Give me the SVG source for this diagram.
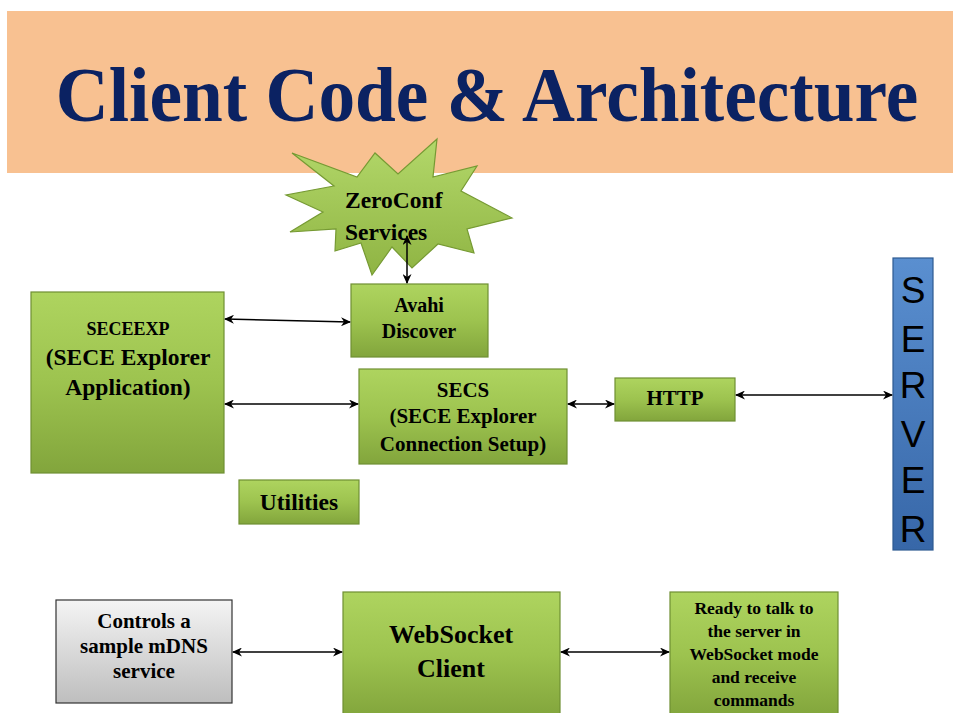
<svg xmlns="http://www.w3.org/2000/svg" width="953" height="713" viewBox="0 0 953 713">
<defs>
<linearGradient id="gGreen" x1="0" y1="0" x2="0" y2="1">
<stop offset="0" stop-color="#AED45F"/>
<stop offset="0.5" stop-color="#9DC34F"/>
<stop offset="1" stop-color="#82A53C"/>
</linearGradient>
<linearGradient id="gStar" x1="0" y1="0" x2="0" y2="1">
<stop offset="0" stop-color="#B3D86A"/>
<stop offset="1" stop-color="#8FB443"/>
</linearGradient>
<linearGradient id="gBlue" x1="0" y1="0" x2="0" y2="1">
<stop offset="0" stop-color="#5A8FD0"/>
<stop offset="1" stop-color="#3767A8"/>
</linearGradient>
<linearGradient id="gGray" x1="0" y1="0" x2="0" y2="1">
<stop offset="0" stop-color="#F4F4F4"/>
<stop offset="1" stop-color="#BEBEBE"/>
</linearGradient>
<marker id="ah" viewBox="0 0 10 10" refX="9" refY="5" markerWidth="10" markerHeight="9" markerUnits="userSpaceOnUse" orient="auto-start-reverse" preserveAspectRatio="none">
<path d="M0,0 L10,5 L0,10 L3,5 z" fill="#000"/>
</marker>
<style>
.gbox{fill:url(#gGreen);stroke:#6F8F33;stroke-width:1.2}
.t{font-family:"Liberation Serif","Times New Roman",serif;font-weight:bold;fill:#000;text-anchor:middle}
.srv{font-family:"Liberation Sans",Arial,sans-serif;font-size:37px;fill:#000;text-anchor:middle}
.conn line{stroke:#000;stroke-width:1.5;marker-start:url(#ah);marker-end:url(#ah)}
</style>
</defs>
<rect x="0" y="0" width="953" height="713" fill="#FFFFFF"/>

<g id="header">
<rect x="7" y="11" width="946" height="162" fill="#F8C191"/>
<text transform="translate(487,121) scale(0.928,1)" x="0" y="0" font-family="'Liberation Serif','Times New Roman',serif" font-weight="bold" font-size="79" fill="#0B2262" text-anchor="middle">Client Code &amp; Architecture</text>
</g>

<g id="zeroconf">
<polygon points="292,153 357,177 375,153 398,174 437,139 433,177 477,166 461,191 512,218 467,229 474,253 438,244 412,268 392,247 372,275 361,243 335,251 336,229 290,232 323,212 286,195 334,186" fill="url(#gStar)" stroke="#769A33" stroke-width="1.2" stroke-linejoin="miter"/>
<text class="t" x="345" y="208" font-size="23.5" style="text-anchor:start">ZeroConf</text>
<text class="t" x="345" y="240" font-size="23.5" style="text-anchor:start">Services</text>
</g>

<g id="seceexp">
<rect class="gbox" x="31" y="292" width="193" height="181"/>
<text class="t" x="128" y="335" font-size="18">SECEEXP</text>
<text class="t" x="128" y="365" font-size="23.5">(SECE Explorer</text>
<text class="t" x="128" y="395" font-size="23.5">Application)</text>
</g>

<g id="avahi">
<rect class="gbox" x="351" y="284" width="137" height="73"/>
<text class="t" x="419" y="312" font-size="20">Avahi</text>
<text class="t" x="419" y="338" font-size="20">Discover</text>
</g>

<g id="secs">
<rect class="gbox" x="359" y="369" width="208" height="95"/>
<text class="t" x="463" y="397" font-size="21">SECS</text>
<text class="t" x="463" y="423" font-size="21">(SECE Explorer</text>
<text class="t" x="463" y="451" font-size="21">Connection Setup)</text>
</g>

<g id="http">
<rect class="gbox" x="615" y="378" width="120" height="43"/>
<text class="t" x="675" y="405" font-size="21">HTTP</text>
</g>

<g id="utilities">
<rect class="gbox" x="239" y="480" width="120" height="44"/>
<text class="t" x="299" y="510" font-size="23.5">Utilities</text>
</g>

<g id="server">
<rect x="893" y="258" width="40" height="292" fill="url(#gBlue)" stroke="#2D5A92" stroke-width="1.2"/>
<text class="srv" x="913" y="303">S</text>
<text class="srv" x="913" y="352">E</text>
<text class="srv" x="913" y="398">R</text>
<text class="srv" x="913" y="447">V</text>
<text class="srv" x="913" y="493">E</text>
<text class="srv" x="913" y="542">R</text>
</g>

<g id="controls">
<rect x="56" y="600" width="176" height="103" fill="url(#gGray)" stroke="#333333" stroke-width="1.2"/>
<text class="t" x="144" y="628" font-size="21">Controls a</text>
<text class="t" x="144" y="653" font-size="21">sample mDNS</text>
<text class="t" x="144" y="678" font-size="21">service</text>
</g>

<g id="websocket">
<rect class="gbox" x="343" y="592" width="217" height="125"/>
<text class="t" x="451" y="643" font-size="26">WebSocket</text>
<text class="t" x="451" y="677" font-size="26">Client</text>
</g>

<g id="ready">
<rect class="gbox" x="670" y="592" width="168" height="125"/>
<text class="t" x="754" y="614" font-size="17.5">Ready to talk to</text>
<text class="t" x="754" y="637" font-size="17.5">the server in</text>
<text class="t" x="754" y="660" font-size="17.5">WebSocket mode</text>
<text class="t" x="754" y="683" font-size="17.5">and receive</text>
<text class="t" x="754" y="706" font-size="17.5">commands</text>
</g>

<g id="connectors" class="conn">
<line x1="225" y1="319" x2="350" y2="322"/>
<line x1="225" y1="404" x2="358" y2="404"/>
<line x1="568" y1="404" x2="614" y2="404"/>
<line x1="736" y1="395" x2="892" y2="395"/>
<line x1="407" y1="236" x2="407" y2="283"/>
<line x1="233" y1="652" x2="342" y2="652"/>
<line x1="561" y1="652" x2="669" y2="652"/>
</g>
</svg>
